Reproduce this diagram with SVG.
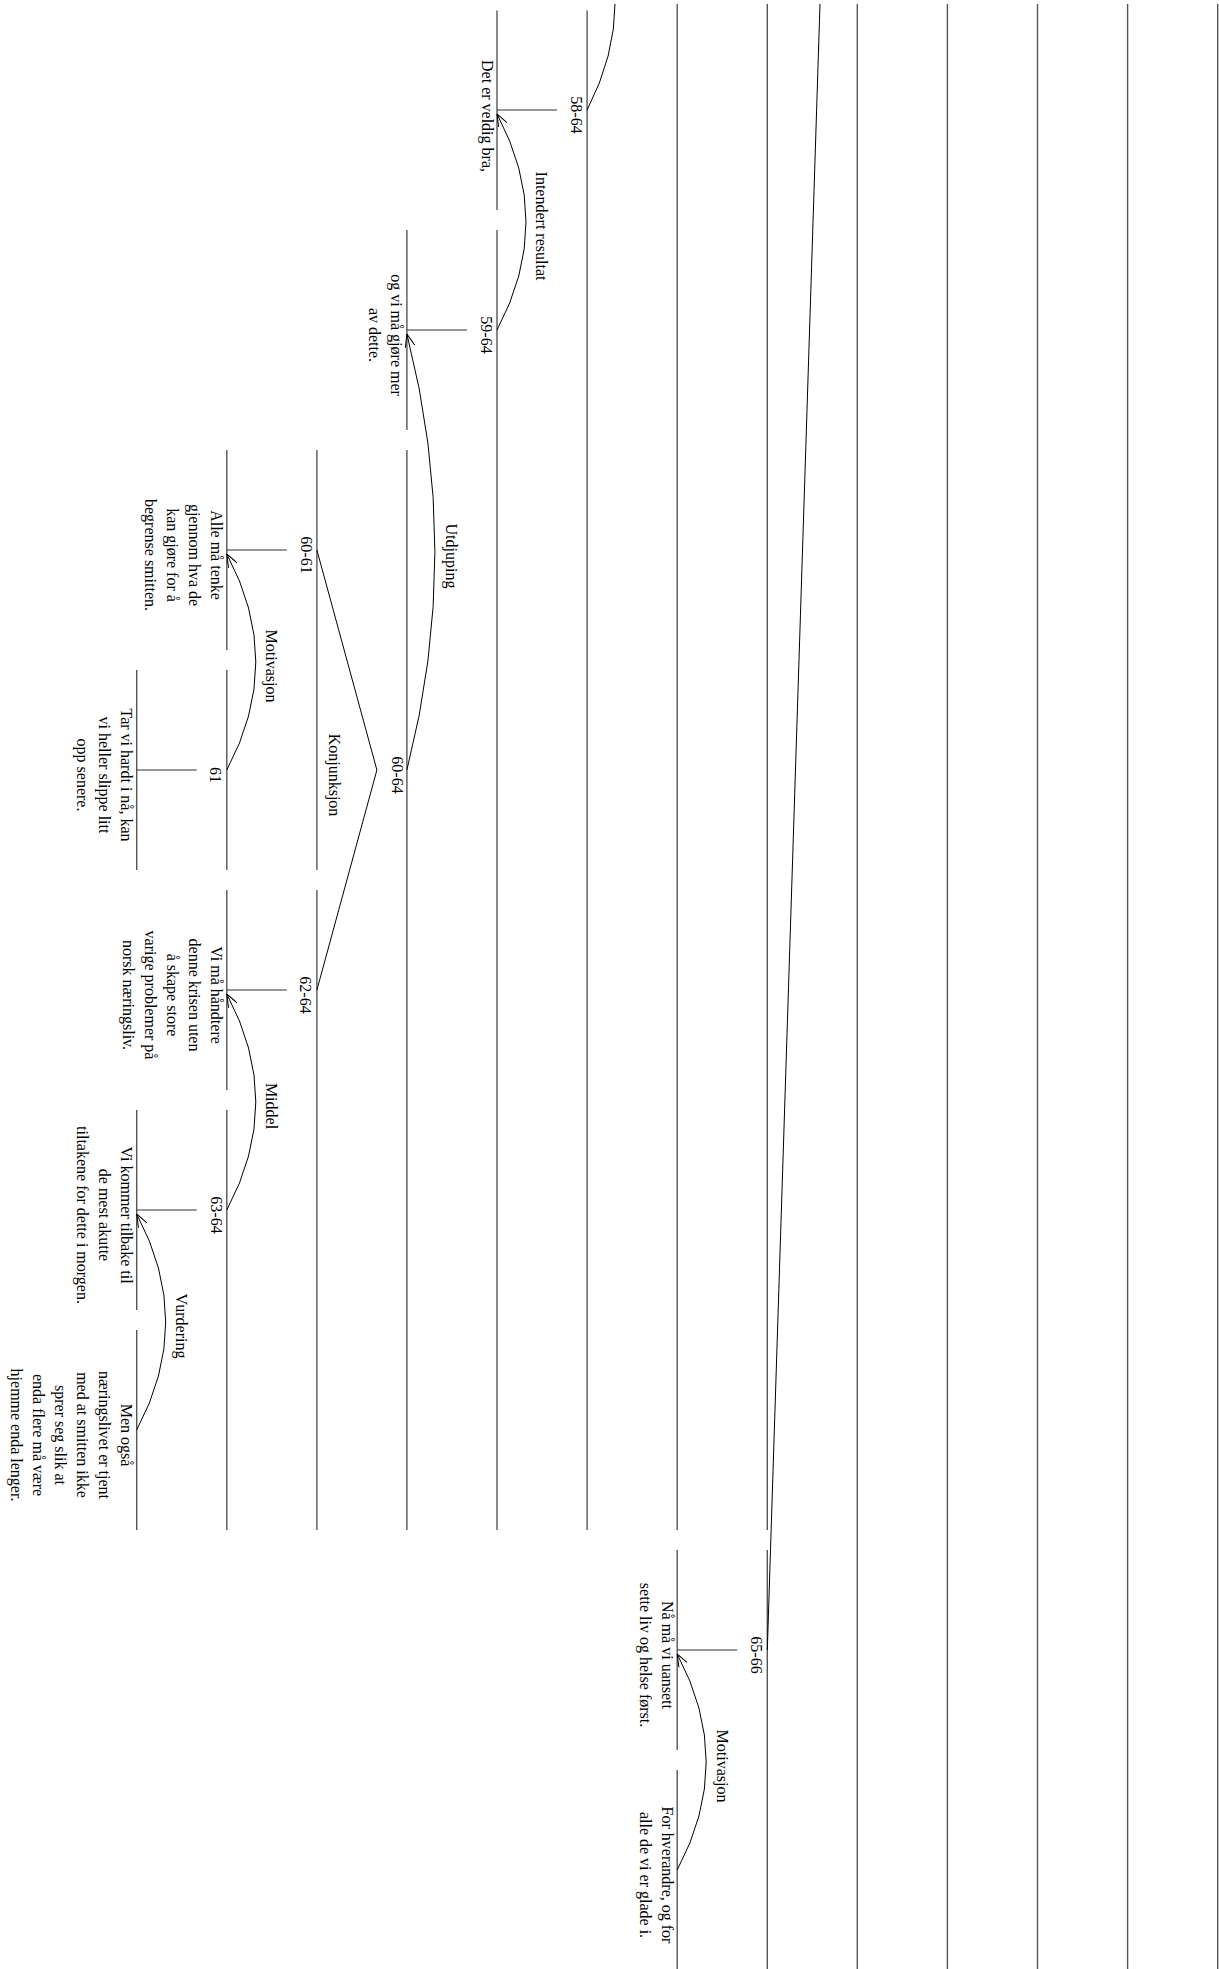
<svg xmlns="http://www.w3.org/2000/svg" width="1219" height="1969" viewBox="0 0 1219 1969">
<style>
.t{font-family:"Liberation Serif","Times New Roman",serif;font-size:16px;text-anchor:middle;fill:#000}
.span{stroke:#555;stroke-width:1.4;fill:none}
.con{stroke:#333;stroke-width:1.2;fill:none}
.arc{stroke:#000;stroke-width:1;fill:none}
.rel{stroke:#000;stroke-width:1;fill:none;marker-start:url(#arr)}
</style>
<defs>
<marker id="arr" viewBox="0 0 13 10" refX="13" refY="5" markerWidth="13" markerHeight="10" markerUnits="userSpaceOnUse" orient="auto-start-reverse">
<path d="M0,0 L13,5 L0,10" fill="none" stroke="#000" stroke-width="1"/>
</marker>
<clipPath id="top"><rect x="0" y="4" width="1219" height="1965"/></clipPath>
</defs>
<rect width="1219" height="1969" fill="#fff"/>

<g id="upper-spans">
<line class="span" x1="677.2" y1="4" x2="677.2" y2="1530"/>
<line class="span" x1="767.3" y1="4" x2="767.3" y2="1530"/>
<line class="span" x1="857.3" y1="4" x2="857.3" y2="1969"/>
<line class="span" x1="947.4" y1="4" x2="947.4" y2="1969"/>
<line class="span" x1="1037.5" y1="4" x2="1037.5" y2="1969"/>
<line class="span" x1="1127.6" y1="4" x2="1127.6" y2="1969"/>
<line class="span" x1="1217.7" y1="4" x2="1217.7" y2="1969"/>
</g>

<g id="n58-64">
<line class="span" x1="587.1" y1="10.5" x2="587.1" y2="1530"/>
<text class="t" transform="translate(571,115) rotate(90)">58-64</text>
</g>
<g id="n58">
<line class="span" x1="497" y1="10.5" x2="497" y2="210"/>
<text class="t" transform="translate(481.5,116) rotate(90)">Det er veldig bra,</text>
</g>
<g id="n59-64">
<line class="span" x1="497" y1="230" x2="497" y2="1530"/>
<text class="t" transform="translate(481,335) rotate(90)">59-64</text>
</g>
<g id="n59">
<line class="span" x1="406.9" y1="230" x2="406.9" y2="430"/>
<text class="t" transform="translate(391.4,335) rotate(90)"><tspan x="0" y="0">og vi må gjøre mer</tspan><tspan x="0" dy="22">av dette.</tspan></text>
</g>
<g id="n60-64">
<line class="span" x1="406.9" y1="450" x2="406.9" y2="1530"/>
<text class="t" transform="translate(391.5,775) rotate(90)">60-64</text>
</g>
<g id="n60-61">
<line class="span" x1="316.9" y1="450" x2="316.9" y2="870"/>
<text class="t" transform="translate(301,555) rotate(90)">60-61</text>
</g>
<g id="n60">
<line class="span" x1="226.8" y1="450" x2="226.8" y2="650"/>
<text class="t" transform="translate(211.3,555) rotate(90)"><tspan x="0" y="0">Alle må tenke</tspan><tspan x="0" dy="22">gjennom hva de</tspan><tspan x="0" dy="22">kan gjøre for å</tspan><tspan x="0" dy="22">begrense smitten.</tspan></text>
</g>
<g id="n61span">
<line class="span" x1="226.8" y1="670" x2="226.8" y2="870"/>
<text class="t" transform="translate(210,775) rotate(90)">61</text>
</g>
<g id="n61">
<line class="span" x1="136.7" y1="670" x2="136.7" y2="870"/>
<text class="t" transform="translate(121.2,775) rotate(90)"><tspan x="0" y="0">Tar vi hardt i nå, kan</tspan><tspan x="0" dy="22">vi heller slippe litt</tspan><tspan x="0" dy="22">opp senere.</tspan></text>
</g>
<g id="n62-64">
<line class="span" x1="316.9" y1="890" x2="316.9" y2="1530"/>
<text class="t" transform="translate(300,995) rotate(90)">62-64</text>
</g>
<g id="n62">
<line class="span" x1="226.8" y1="890" x2="226.8" y2="1090"/>
<text class="t" transform="translate(211.3,995) rotate(90)"><tspan x="0" y="0">Vi må håndtere</tspan><tspan x="0" dy="22">denne krisen uten</tspan><tspan x="0" dy="22">å skape store</tspan><tspan x="0" dy="22">varige problemer på</tspan><tspan x="0" dy="22">norsk næringsliv.</tspan></text>
</g>
<g id="n63-64">
<line class="span" x1="226.8" y1="1110" x2="226.8" y2="1530"/>
<text class="t" transform="translate(211,1215) rotate(90)">63-64</text>
</g>
<g id="n63">
<line class="span" x1="136.7" y1="1110" x2="136.7" y2="1310"/>
<text class="t" transform="translate(121.2,1215) rotate(90)"><tspan x="0" y="0">Vi kommer tilbake til</tspan><tspan x="0" dy="22">de mest akutte</tspan><tspan x="0" dy="22">tiltakene for dette i morgen.</tspan></text>
</g>
<g id="n64">
<line class="span" x1="136.7" y1="1330" x2="136.7" y2="1530"/>
<text class="t" transform="translate(121.2,1435) rotate(90)"><tspan x="0" y="0">Men også</tspan><tspan x="0" dy="22">næringslivet er tjent</tspan><tspan x="0" dy="22">med at smitten ikke</tspan><tspan x="0" dy="22">sprer seg slik at</tspan><tspan x="0" dy="22">enda flere må være</tspan><tspan x="0" dy="22">hjemme enda lenger.</tspan></text>
</g>
<g id="n65-66">
<line class="span" x1="767.3" y1="1550" x2="767.3" y2="1969"/>
<text class="t" transform="translate(751,1655) rotate(90)">65-66</text>
</g>
<g id="n65">
<line class="span" x1="677.2" y1="1550" x2="677.2" y2="1750"/>
<text class="t" transform="translate(661.7,1655) rotate(90)"><tspan x="0" y="0">Nå må vi uansett</tspan><tspan x="0" dy="22">sette liv og helse først.</tspan></text>
</g>
<g id="n66">
<line class="span" x1="677.2" y1="1770" x2="677.2" y2="1969"/>
<text class="t" transform="translate(661.7,1875) rotate(90)"><tspan x="0" y="0">For hverandre, og for</tspan><tspan x="0" dy="22">alle de vi er glade i.</tspan></text>
</g>

<g id="connectors">
<line class="con" x1="557" y1="110" x2="497" y2="110"/>
<line class="con" x1="467" y1="330" x2="406.9" y2="330"/>
<line class="con" x1="286.9" y1="550" x2="226.8" y2="550"/>
<line class="con" x1="196.8" y1="770" x2="136.7" y2="770"/>
<line class="con" x1="286.9" y1="990" x2="226.8" y2="990"/>
<line class="con" x1="196.8" y1="1210" x2="136.7" y2="1210"/>
<line class="con" x1="737.2" y1="1650" x2="677.2" y2="1650"/>
<polyline class="arc" points="316.9,550 376.9,770 316.9,990"/>
<line class="arc" x1="820" y1="4" x2="767.3" y2="1650"/>
<path class="arc" clip-path="url(#top)" d="M587.1,-106 Q643.1,2 587.1,110"/>
<path class="rel" d="M497,114 Q555,222 497,330"/>
<path class="rel" d="M406.9,334 Q462.9,552 406.9,770"/>
<path class="rel" d="M226.8,554 Q284.8,662 226.8,770"/>
<path class="rel" d="M226.8,994 Q284.8,1102 226.8,1210"/>
<path class="rel" d="M136.7,1214 Q194.7,1322 136.7,1430"/>
<path class="rel" d="M677.2,1654 Q735.2,1762 677.2,1870"/>
<text class="t" transform="translate(536,226) rotate(90)">Intendert resultat</text>
<text class="t" transform="translate(446,556) rotate(90)">Utdjuping</text>
<text class="t" transform="translate(266,666) rotate(90)">Motivasjon</text>
<text class="t" transform="translate(329,775) rotate(90)">Konjunksjon</text>
<text class="t" transform="translate(266,1106) rotate(90)">Middel</text>
<text class="t" transform="translate(176,1326) rotate(90)">Vurdering</text>
<text class="t" transform="translate(716.5,1766) rotate(90)">Motivasjon</text>
</g>
</svg>
